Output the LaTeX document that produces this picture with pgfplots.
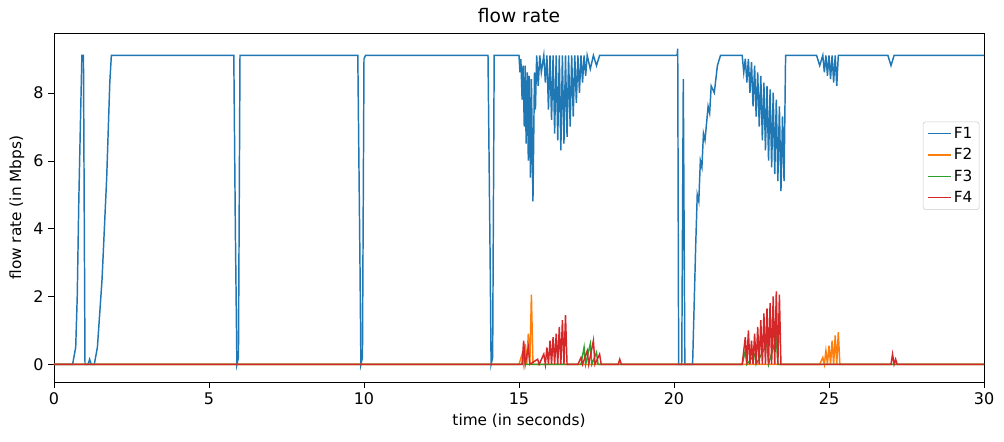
\documentclass[border=0pt]{standalone}
\usepackage{pgfplots}
\pgfplotsset{compat=1.18}
\usepackage{fontspec}
\setmainfont{DejaVu Sans}
\definecolor{c1}{HTML}{1F77B4}
\definecolor{c2}{HTML}{FF7F0E}
\definecolor{c3}{HTML}{2CA02C}
\definecolor{c4}{HTML}{D62728}
\begin{document}
\begin{tikzpicture}
\path[use as bounding box] (-40.5pt,-44.25pt) rectangle (712.5pt,286.75pt);
\begin{axis}[scale only axis, width=697.5pt, height=262pt,
 xmin=0, xmax=30, ymin=-0.53, ymax=9.76,
 xtick={0,5,...,30}, ytick={0,2,4,6,8},
 tick label style={font=\fontsize{12}{14}\selectfont},
 label style={font=\fontsize{11.5}{14}\selectfont},
 /pgf/number format/assume math mode=true,
 title={\fontsize{14}{16}\selectfont flow rate},
 title style={yshift=-2pt},
 xlabel={time (in seconds)}, ylabel={flow rate (in Mbps)},
 legend style={at={(0.995,0.62)},anchor=east,font=\fontsize{11.5}{14}\selectfont,draw=black!20,rounded corners=2pt,row sep=2pt},
 legend image code/.code={\draw[#1,line width=1pt] (0cm,0cm) -- (0.6cm,0cm);},
 legend cell align=left, tick align=outside, tick style={black}, tick pos=left]
\addplot[c1, line width=1.1pt] coordinates {
(0,0)(0.6,0)(0.7,0.5)(0.75,2)(0.8,4.8)(0.85,7)(0.9,9.1)(0.95,9.1)(1.0,0)(1.1,0)(1.15,0.15)(1.2,0)(1.3,0)(1.4,0.5)(1.55,2.5)(1.7,5.5)(1.8,8.3)(1.85,9.1)
(5.8,9.1)(5.85,4)(5.9,0)(5.95,0.2)(6.0,9.1)(9.8,9.1)(9.87,3)(9.9,0)(9.95,0.2)(10.0,9.0)(10.05,9.1)
(14.0,9.1)(14.07,3)(14.1,0)(14.15,0.2)(14.2,9.1)(15.0,9.1)(15.03,8.6)(15.06,9)(15.1,7.8)(15.13,8.8)(15.17,7)(15.2,8.8)(15.23,6.5)(15.27,8.6)(15.3,6)(15.33,8.5)(15.37,5.5)(15.4,8.4)(15.45,4.8)(15.5,8.6)(15.53,7.5)(15.57,9.1)(15.62,8.2)(15.67,9.1)(15.72,8.6)(15.8,9.1)(15.85,8.3)(15.9,9.1)(15.95,7.5)(16.0,9.1)(16.05,7.2)(16.1,9.1)(16.15,6.8)(16.2,9.1)(16.25,6.6)(16.3,9.1)(16.35,6.3)(16.4,9.1)(16.45,6.5)(16.5,9.1)(16.55,6.7)(16.6,9.1)(16.65,7.0)(16.7,9.1)(16.75,7.3)(16.8,9.1)(16.85,7.7)(16.9,9.1)(16.95,8.0)(17.0,9.1)(17.05,8.3)(17.1,9.1)(17.15,8.5)(17.2,9.1)(17.3,8.7)(17.4,9.1)(17.5,8.8)(17.6,9.1)
(20.1,9.1)(20.12,9.3)(20.15,0)(20.25,0)(20.3,8.4)(20.35,0)(20.6,0)(20.7,3.5)(20.75,5)(20.8,4.8)(20.85,6)(20.9,5.8)(20.95,6.8)(21.0,6.6)(21.1,7.6)(21.15,7.4)(21.2,8.2)(21.3,8.0)(21.4,8.8)(21.5,9.1)
(22.2,9.1)(22.25,8.6)(22.3,9.0)(22.35,8.3)(22.4,9.0)(22.45,8.0)(22.5,8.9)(22.55,7.6)(22.6,8.8)(22.65,7.3)(22.7,8.6)(22.75,7.0)(22.8,8.5)(22.85,6.6)(22.9,8.3)(22.95,6.3)(23.0,8.2)(23.05,6.0)(23.1,8.1)(23.15,5.8)(23.2,8.0)(23.25,5.6)(23.3,7.8)(23.35,5.4)(23.4,7.6)(23.45,5.1)(23.5,7.3)(23.55,5.4)(23.6,9.1)
(24.6,9.1)(24.7,8.8)(24.8,9.1)(24.85,8.6)(24.9,9.1)(24.95,8.5)(25.0,9.1)(25.05,8.4)(25.1,9.1)(25.15,8.3)(25.2,9.1)(25.25,8.2)(25.3,9.1)(26.9,9.1)(27.0,8.8)(27.1,9.1)(30,9.1)};
\addlegendentry{F1}
\addplot[c2, line width=1.1pt] coordinates {(0,0)(15.0,0)(15.1,0.3)(15.15,0)(15.2,0.6)(15.25,0)(15.3,0.9)(15.35,0)(15.4,2.05)(15.45,0)(24.7,0)(24.8,0.2)(24.85,0)(24.9,0.4)(24.95,0)(25.0,0.55)(25.05,0)(25.1,0.7)(25.15,0)(25.2,0.85)(25.25,0)(25.3,0.95)(25.35,0)(30,0)};
\addlegendentry{F2}
\addplot[c3, line width=1.1pt] coordinates {(0,0)(15.1,0)(15.15,0.4)(15.2,0)(17.0,0)(17.1,0.5)(17.15,0)(17.3,0.6)(17.35,0)(17.5,0.35)(17.55,0)(22.2,0)(22.3,0.4)(22.35,0)(22.6,0.3)(22.65,0)(23.0,0.6)(23.05,0)(23.3,0.8)(23.35,0)(30,0)};
\addlegendentry{F3}
\addplot[c4, line width=1.1pt] coordinates {(0,0)(15.1,0)(15.15,0.7)(15.2,0)(15.3,0.5)(15.35,0)(15.6,0.15)(15.65,0)(15.8,0.3)(15.85,0)(15.9,0.5)(15.95,0)(16.0,0.7)(16.05,0)(16.1,0.8)(16.15,0)(16.2,0.9)(16.25,0)(16.3,1.1)(16.35,0)(16.4,1.3)(16.45,0)(16.5,1.45)(16.55,0)(16.9,0)(17.0,0.2)(17.05,0)(17.2,0.4)(17.25,0)(17.4,0.7)(17.45,0)(17.6,0.3)(17.65,0)(18.2,0)(18.25,0.15)(18.3,0)
(22.2,0)(22.3,0.8)(22.35,0)(22.4,1.0)(22.45,0)(22.5,0.7)(22.55,0)(22.6,0.9)(22.65,0)(22.7,1.1)(22.75,0)(22.8,1.3)(22.85,0)(22.9,1.5)(22.95,0)(23.0,1.65)(23.05,0)(23.1,1.8)(23.15,0)(23.2,2.0)(23.25,0)(23.3,2.15)(23.35,0)(23.4,2.05)(23.45,0)(27.0,0)(27.05,0.3)(27.1,0)(27.15,0.15)(27.2,0)(30,0)};
\addlegendentry{F4}
\end{axis}
\end{tikzpicture}
\end{document}
